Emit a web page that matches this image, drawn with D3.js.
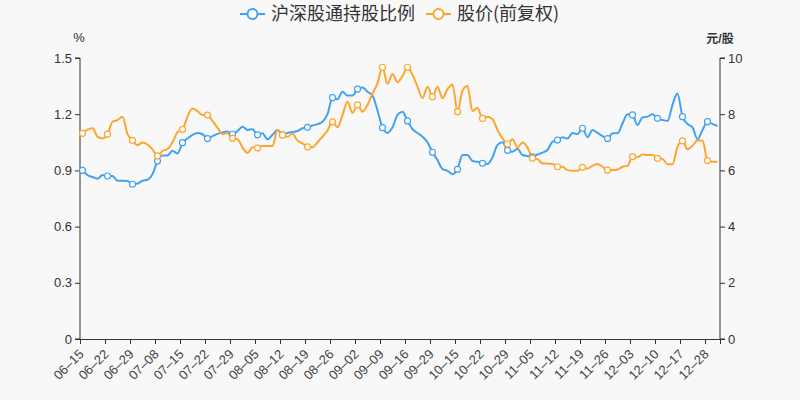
<!DOCTYPE html>
<html>
<head>
<meta charset="utf-8">
<script src="https://cdn.jsdelivr.net/npm/d3@7/dist/d3.min.js"></script>
<style>
html,body{margin:0;padding:0;background:#f8f8f8;}
svg{display:block;font-family:"Liberation Sans",Arial,"Noto Sans CJK SC",sans-serif;}
</style>
</head>
<body>
<svg id="chart" width="800" height="400"></svg>
<script>
const categories = [
"06-15","06-16","06-17","06-18","06-21","06-22","06-23","06-24","06-25","06-28",
"06-29","06-30","07-01","07-02","07-05","07-08","07-09","07-12","07-13","07-14",
"07-15","07-16","07-19","07-20","07-21","07-22","07-23","07-26","07-27","07-28",
"07-29","07-30","08-02","08-03","08-04","08-05","08-06","08-09","08-10","08-11",
"08-12","08-13","08-16","08-17","08-18","08-19","08-20","08-23","08-24","08-25",
"08-26","08-27","08-30","08-31","09-01","09-02","09-03","09-06","09-07","09-08",
"09-09","09-10","09-13","09-14","09-15","09-16","09-17","09-22","09-23","09-24",
"09-29","09-30","10-08","10-11","10-12","10-15","10-18","10-19","10-20","10-21",
"10-22","10-25","10-26","10-27","10-28","10-29","11-01","11-02","11-03","11-04",
"11-05","11-08","11-09","11-10","11-11","11-12","11-15","11-16","11-17","11-18",
"11-19","11-22","11-23","11-24","11-25","11-26","11-29","11-30","12-01","12-02",
"12-03","12-06","12-07","12-08","12-09","12-10","12-13","12-14","12-15","12-16",
"12-17","12-20","12-21","12-22","12-23","12-28","12-29","12-30"];

// 沪深股通持股比例 (%)
const holdRatio = [
0.90,0.875,0.865,0.855,0.875,0.87,0.87,0.845,0.845,0.843,
0.826,0.83,0.845,0.85,0.88,0.95,0.98,0.98,1.005,0.99,
1.048,1.07,1.09,1.10,1.093,1.07,1.083,1.095,1.103,1.107,
1.093,1.11,1.133,1.116,1.12,1.09,1.098,1.066,1.09,1.116,
1.09,1.10,1.105,1.11,1.125,1.13,1.14,1.147,1.16,1.20,
1.288,1.28,1.32,1.30,1.30,1.334,1.343,1.32,1.30,1.22,
1.128,1.10,1.13,1.196,1.213,1.164,1.12,1.10,1.08,1.05,
0.997,0.955,0.907,0.898,0.88,0.906,0.982,0.982,0.95,0.946,
0.938,0.934,0.97,1.036,1.05,1.007,1.0,1.015,0.982,0.977,
0.972,0.985,0.995,1.01,1.053,1.062,1.077,1.07,1.10,1.094,
1.125,1.077,1.116,1.10,1.083,1.07,1.098,1.098,1.15,1.20,
1.196,1.142,1.183,1.187,1.20,1.178,1.169,1.164,1.25,1.311,
1.187,1.148,1.13,1.066,1.116,1.16,1.148,1.137];

// 股价(前复权) (元/股)
const price = [
7.32,7.45,7.50,7.20,7.14,7.29,7.73,7.79,7.91,7.29,
7.07,6.90,6.99,6.92,6.75,6.52,6.69,6.76,7.00,7.36,
7.46,7.92,8.20,8.11,7.97,7.97,7.76,7.52,7.29,7.33,
7.14,7.11,6.82,6.62,6.82,6.80,6.87,6.87,6.87,7.44,
7.26,7.20,7.30,7.06,6.96,6.84,6.82,7.00,7.20,7.42,
7.73,7.53,7.97,8.45,8.05,8.33,8.09,8.33,8.74,9.10,
9.67,9.08,9.43,9.14,9.36,9.67,9.40,8.98,8.57,8.98,
8.62,8.98,8.57,8.89,9.06,8.09,8.84,9.00,8.11,8.23,
7.85,7.91,7.82,7.44,7.14,6.94,7.11,6.82,6.99,6.82,
6.43,6.40,6.25,6.25,6.23,6.13,6.13,6.01,5.99,5.99,
6.11,6.07,6.16,6.23,6.13,6.01,6.01,6.03,6.13,6.16,
6.49,6.47,6.57,6.55,6.55,6.43,6.41,6.22,6.22,6.84,
7.05,6.75,6.87,7.06,7.06,6.35,6.31,6.31];

const leftTicks = [0, 0.3, 0.6, 0.9, 1.2, 1.5];
const rightTicks = [0, 2, 4, 6, 8, 10];
const seriesNames = ["沪深股通持股比例", "股价(前复权)"];
const colors = ["#42a2f2", "#ffa52d"];

const svg = d3.select("#chart");
const W = 800, H = 400;
const m = {left: 80, right: 80, top: 58, bottom: 61};
const x0 = m.left, x1 = W - m.right, yTop = m.top, yBot = H - m.bottom;

const x = d3.scaleBand().domain(categories).range([x0, x1]).paddingInner(0).paddingOuter(0);
const yL = d3.scaleLinear().domain([0, 1.5]).range([yBot, yTop]);
const yR = d3.scaleLinear().domain([0, 10]).range([yBot, yTop]);
const cx = c => x(c) + x.bandwidth() / 2;

const axisColor = "#333";
const textColor = "#333";

// Left axis
const gL = svg.append("g").attr("transform", `translate(${x0},0)`)
  .call(d3.axisLeft(yL).tickValues(leftTicks).tickSize(5).tickPadding(3).tickFormat(d => d === 0 ? "0" : d3.format(".1f")(d)));
// Right axis
const gR = svg.append("g").attr("transform", `translate(${x1},0)`)
  .call(d3.axisRight(yR).tickValues(rightTicks).tickSize(5).tickPadding(3).tickFormat(d3.format("d")));
[gL, gR].forEach(g => {
  g.select(".domain").attr("stroke", axisColor).attr("stroke-width", 1).attr("d",
    g === gL ? `M-5,${yTop}H0V${yBot}H-5` : `M5,${yTop}H0V${yBot}H5`);
  g.selectAll(".tick line").attr("stroke", axisColor);
  g.selectAll(".tick text").attr("fill", textColor).style("font-size", "13px");
});

// Bottom axis
const labelCats = categories.filter((d, i) => i % 5 === 0);
const gB = svg.append("g").attr("transform", `translate(0,${yBot})`);
gB.append("line").attr("x1", x0).attr("x2", x1).attr("y1", 0.5).attr("y2", 0.5).attr("stroke", axisColor);
const tickXs = labelCats.map(c => x(c)).concat([x1]);
gB.selectAll("line.tk").data(tickXs).enter().append("line").attr("class", "tk")
  .attr("x1", d => Math.round(d) + 0.5).attr("x2", d => Math.round(d) + 0.5)
  .attr("y1", 0).attr("y2", 5).attr("stroke", axisColor);
gB.selectAll("text").data(labelCats).enter().append("text")
  .attr("transform", d => `translate(${cx(d) + 2},${16}) rotate(-45)`)
  .attr("text-anchor", "end")
  .attr("fill", "#444")
  .style("font-size", "13px")
  .text(d => d.replace("-", "–"));

// Axis titles
svg.append("text").attr("x", 79).attr("y", 42).attr("text-anchor", "middle")
  .attr("fill", textColor).style("font-size", "13px").text("%");
svg.append("text").attr("x", 720).attr("y", 43).attr("text-anchor", "middle")
  .attr("fill", textColor).style("font-size", "12px").style("font-weight", "bold").text("元/股");

// Lines
const series = [
  {vals: holdRatio, y: yL, color: colors[0]},
  {vals: price, y: yR, color: colors[1]}
];
series.forEach(s => {
  const line = d3.line().x((d, i) => cx(categories[i])).y(d => s.y(d)).curve(d3.curveMonotoneX);
  svg.append("path").datum(s.vals).attr("d", line)
    .attr("fill", "none").attr("stroke", s.color).attr("stroke-width", 2);
});
series.forEach(s => {
  svg.append("g").selectAll("circle").data(s.vals.map((v, i) => ({v, i})).filter(d => d.i % 5 === 0))
    .enter().append("circle")
    .attr("cx", d => cx(categories[d.i])).attr("cy", d => s.y(d.v)).attr("r", 3)
    .attr("fill", "#fff").attr("stroke", s.color).attr("stroke-width", 1.2);
});

// Legend
const legend = [
  {name: seriesNames[0], color: colors[0], x: 240},
  {name: seriesNames[1], color: colors[1], x: 426}
];
legend.forEach(l => {
  const g = svg.append("g").attr("transform", `translate(${l.x},14)`);
  g.append("line").attr("x1", 0).attr("x2", 25).attr("stroke", l.color).attr("stroke-width", 2);
  g.append("circle").attr("cx", 12.5).attr("r", 5).attr("fill", "#fff").attr("stroke", l.color).attr("stroke-width", 2);
  g.append("text").attr("x", 31).attr("y", 6).attr("fill", "#333")
    .style("font-size", "18px").style("font-family", "'Noto Sans CJK SC',sans-serif").text(l.name);
});
</script>
</body>
</html>
